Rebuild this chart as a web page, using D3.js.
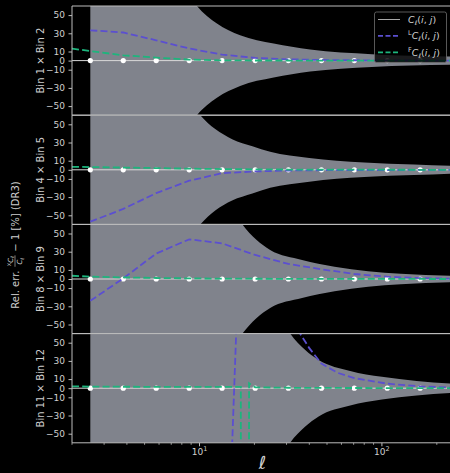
<!DOCTYPE html>
<html><head><meta charset="utf-8">
<script src="https://cdn.jsdelivr.net/npm/d3@7"></script>
<style>body{margin:0;background:#000;} svg{display:block;}</style>
</head><body><svg id="c" width="450" height="473"></svg>
<script>
// ---------------- data ----------------
const ellBins = [2.52, 3.82, 5.79, 8.78, 13.3, 20.2, 30.7, 46.6, 70.6, 107, 162, 246];
const fidValues = [0, 0, 0, 0, 0, 0, 0, 0, 0, 0, 0, 0];
const fidLine = [[2, 0], [250, 0]];
const panelLabels = ["Bin 1 × Bin 2", "Bin 4 × Bin 5", "Bin 8 × Bin 9", "Bin 11 × Bin 12"];
const yTicks = [-50, -30, -10, 0, 10, 30, 50];
const xTicksMajor = [10, 100];
const xTicksMajorExp = ["1", "2"];
const xTicksMinor = [2, 3, 4, 5, 6, 7, 8, 9, 20, 30, 40, 50, 60, 70, 80, 90, 200];

// lensing-corrected (purple)
const lensP1 = [[2.52,33.3],[3.82,30.9],[5.79,22.3],[8.78,13.3],[13.3,6.6],[20.2,2.9],[30.7,1.4],[46.6,0.7],[70.6,0.4],[107,0.2],[162,0.1],[246,0]];
const lensP2 = [[2.52,-57],[3.82,-43],[5.79,-25.6],[8.78,-12],[13.3,-3.7],[20.2,-1.8],[30.7,-0.8],[46.6,-0.4],[70.6,-0.2],[107,-0.3],[162,-0.1],[246,0]];
const lensP3 = [[2.52,-24],[3.82,0.7],[5.79,28],[8.78,43.6],[13.3,39.2],[20.2,26.4],[30.7,16.5],[46.6,10.7],[70.6,5.5],[107,2.5],[162,1],[246,0.3]];
const lensP4 = [[2.52,-300],[8.78,-300],[13.3,-300],[15.0,-90],[15.1,-62],[15.9,62],[16.0,90],[20.2,300],[28,130],[33,72],[35.6,60],[40,44],[46.6,27],[57,17],[70.6,11],[107,5],[162,2],[246,0.5]];
// F-corrected (green)
const flatP1 = [[2,13.2],[2.52,10.5],[3.82,5.8],[5.79,3.3],[8.78,1.1],[13.3,0.3],[20.2,0.1],[250,0]];
const flatP2 = [[2,3.3],[2.52,3.0],[3.82,2.5],[5.79,1.9],[8.78,1.3],[13.3,0.8],[20.2,0.5],[30.7,0.3],[46.6,0.2],[70.6,0.1],[107,0.1],[162,0],[250,0]];
const flatP3 = [[2,3.6],[2.52,2.6],[3.82,1.8],[5.79,1.1],[8.78,0.7],[13.3,0.4],[20.2,0.3],[30.7,0.2],[46.6,0.1],[70.6,0.1],[250,0]];
const flatP4 = [[2,2.0],[2.52,1.8],[3.82,1.6],[5.79,1.5],[8.78,1.5],[13.3,1.5],[16.85,1.5],[16.95,-900],[18.6,-900],[18.7,5.4],[20.2,1.0],[30.7,0.5],[46.6,0.3],[250,0]];
// error band half-width (%)
const bandP1 = [[2.52,1800],[4,450],[6,160],[8,84],[9.68,60],[12.46,40.8],[16.7,27.8],[25.5,18.7],[40.4,12.1],[88,7],[250,4.5]];
const bandP2 = [[2.52,1800],[4,460],[6,165],[8,88],[10.1,60],[12.2,44.7],[15.1,33.7],[19.5,26],[24.4,19.8],[40,13],[80,8],[150,5.8],[250,4.2]];
const bandP3 = [[2.52,4000],[6,700],[10,200],[14,88],[17.2,60],[20.5,43],[24.4,31.9],[36.5,21],[55,13.5],[84,8.5],[127,5.8],[250,3.5]];
const bandP4 = [[2.52,9000],[10,800],[20,160],[26,90],[31.4,60],[38,42],[45,31],[67,19],[100,12.5],[155,8],[250,5]];

const lensAll = [lensP1, lensP2, lensP3, lensP4];
const flatAll = [flatP1, flatP2, flatP3, flatP4];
const bandAll = [bandP1, bandP2, bandP3, bandP4];

// ---------------- style ----------------
const FONT = "DejaVu Sans";
const TXT = "#cfcfcf";
const SPINE = "#bdbdbd";
const BAND = "#80838c";
const PURPLE = "#5b4fd0";
const GREEN = "#1db57d";

const svg = d3.select("#c");
svg.append("rect").attr("width", 450).attr("height", 473).attr("fill", "#000");

const left = 72, right = 454.5;
const x = d3.scaleLog().domain([2, 250]).range([left, right]);
const top0 = 6, panelH = 109.2;

const defs = svg.append("defs");

panelLabels.forEach((lab, i) => {
  const top = top0 + i * panelH, bot = top + panelH;
  const y = d3.scaleLinear().domain([-60, 60]).range([bot, top]);
  defs.append("clipPath").attr("id", "clip" + i)
    .append("rect").attr("x", left).attr("y", top).attr("width", right - left).attr("height", panelH);
  const g = svg.append("g");
  const pg = g.append("g").attr("clip-path", `url(#clip${i})`);

  const area = d3.area().x(d => x(d[0])).y0(d => y(-d[1])).y1(d => y(d[1])).curve(d3.curveMonotoneX);
  pg.append("path").datum(bandAll[i]).attr("d", area).attr("fill", BAND);

  const line = d3.line().x(d => x(d[0])).y(d => y(d[1]));
  pg.append("path").datum(fidLine).attr("d", line).attr("stroke", "#d9d9d9").attr("stroke-width", 1).attr("fill", "none");
  pg.selectAll("circle").data(ellBins).join("circle")
    .attr("cx", d => x(d)).attr("cy", (d, k) => y(fidValues[k])).attr("r", 2.6).attr("fill", "#fff");
  pg.append("path").datum(lensAll[i]).attr("d", line).attr("stroke", PURPLE).attr("stroke-width", 1.8)
    .attr("stroke-dasharray", "7,3.2").attr("fill", "none");
  pg.append("path").datum(flatAll[i]).attr("d", line).attr("stroke", GREEN).attr("stroke-width", 1.8)
    .attr("stroke-dasharray", "7,3.2").attr("fill", "none");

  // spines
  g.append("line").attr("x1", left).attr("x2", right).attr("y1", top).attr("y2", top).attr("stroke", SPINE).attr("stroke-width", 1);
  g.append("line").attr("x1", left).attr("x2", right).attr("y1", bot).attr("y2", bot).attr("stroke", SPINE).attr("stroke-width", 1);
  g.append("line").attr("x1", left).attr("x2", left).attr("y1", top).attr("y2", bot).attr("stroke", SPINE).attr("stroke-width", 1);

  // y axis
  const ax = g.append("g").attr("transform", `translate(${left},0)`)
    .call(d3.axisLeft(y).tickValues(yTicks).tickSize(3.5).tickPadding(3.5));
  ax.select(".domain").remove();
  ax.selectAll("line").attr("stroke", SPINE);
  ax.selectAll("text").attr("fill", TXT).attr("font-family", FONT).attr("font-size", 9);

  // panel label
  g.append("text").attr("transform", `translate(44,${(top + bot) / 2}) rotate(-90)`)
    .attr("text-anchor", "middle").attr("font-family", FONT).attr("font-size", 10).attr("fill", TXT).text(lab);

  if (i === panelLabels.length - 1) {
    const xa = g.append("g");
    xa.selectAll(".maj").data(xTicksMajor).join("line")
      .attr("x1", d => x(d)).attr("x2", d => x(d)).attr("y1", bot).attr("y2", bot + 3.5).attr("stroke", SPINE);
    xa.selectAll(".min").data(xTicksMinor).join("line").attr("class", "min")
      .attr("x1", d => x(d)).attr("x2", d => x(d)).attr("y1", bot).attr("y2", bot + 2).attr("stroke", SPINE).attr("stroke-width", 0.8);
    xTicksMajor.forEach((v, k) => {
      const t = xa.append("text").attr("x", x(v)).attr("y", bot + 12).attr("text-anchor", "middle")
        .attr("font-family", FONT).attr("font-size", 9).attr("fill", TXT);
      t.append("tspan").text("10");
      t.append("tspan").attr("font-size", 6.5).attr("dy", -3.5).text(xTicksMajorExp[k]);
    });
    svg.append("text").attr("x", 262.5).attr("y", 469).attr("text-anchor", "middle")
      .attr("font-family", FONT).attr("font-style", "italic").attr("font-size", 18).attr("fill", TXT).text("ℓ");
  }
});

// outer y label with fraction
(function () {
  const g = svg.append("g").attr("transform", "translate(18.5,245) rotate(-90)");
  const mk = (txt, fs) => g.append("text").attr("font-family", FONT).attr("font-size", fs).attr("fill", TXT)
    .attr("xml:space", "preserve").style("white-space", "pre").text(txt);
  const a = mk("Rel. err. ", 10);
  const wa = a.node().getComputedTextLength();
  const num = g.append("text").attr("font-family", FONT).attr("font-size", 7).attr("fill", TXT);
  num.append("tspan").attr("font-size", 5).attr("dy", -2).text("X");
  num.append("tspan").attr("font-style", "italic").attr("dy", 2).text("C");
  num.append("tspan").attr("font-style", "italic").attr("font-size", 5).attr("dy", 1.5).text("ℓ");
  const den = g.append("text").attr("font-family", FONT).attr("font-size", 7).attr("fill", TXT);
  den.append("tspan").attr("font-style", "italic").text("C");
  den.append("tspan").attr("font-style", "italic").attr("font-size", 5).attr("dy", 1.5).text("ℓ");
  const wn = num.node().getComputedTextLength(), wd = den.node().getComputedTextLength();
  const wf = Math.max(wn, wd) + 2;
  const b = mk(" − 1 [%] (DR3)", 10);
  const wb = b.node().getComputedTextLength();
  const total = wa + wf + wb;
  const x0 = -total / 2;
  a.attr("x", x0);
  num.attr("x", x0 + wa + (wf - wn) / 2).attr("y", -6);
  den.attr("x", x0 + wa + (wf - wd) / 2).attr("y", 3.5);
  g.append("line").attr("x1", x0 + wa + 0.5).attr("x2", x0 + wa + wf - 0.5).attr("y1", -3.5).attr("y2", -3.5)
    .attr("stroke", TXT).attr("stroke-width", 0.6);
  b.attr("x", x0 + wa + wf);
})();

// legend
(function () {
  const lg = svg.append("g");
  lg.append("rect").attr("x", 374.5).attr("y", 12).attr("width", 72).attr("height", 50.5).attr("rx", 2)
    .attr("fill", "#000").attr("fill-opacity", 0.8).attr("stroke", "#6e6e6e").attr("stroke-width", 0.8);
  const rows = [
    { pre: "", color: "#a8a8a8", dash: null, w: 1 },
    { pre: "L", color: PURPLE, dash: "5,2.5", w: 1.8 },
    { pre: "F", color: GREEN, dash: "5,2.5", w: 1.8 }
  ];
  const ys = [19.5, 35.8, 52.3];
  rows.forEach((r, k) => {
    const yy = ys[k];
    const l = lg.append("line").attr("x1", 378).attr("x2", 400).attr("y1", yy).attr("y2", yy)
      .attr("stroke", r.color).attr("stroke-width", r.w);
    if (r.dash) l.attr("stroke-dasharray", r.dash);
    const t = lg.append("text").attr("x", 408).attr("y", yy + 3.5).attr("font-family", FONT)
      .attr("font-size", 9.5).attr("fill", TXT);
    if (r.pre) {
      t.append("tspan").attr("font-size", 6.5).attr("dy", -4).text(r.pre);
      t.append("tspan").attr("font-style", "italic").attr("dy", 4).text("C");
    } else {
      t.append("tspan").attr("font-style", "italic").text("C");
    }
    t.append("tspan").attr("font-style", "italic").attr("font-size", 6.5).attr("dy", 2).text("ℓ");
    t.append("tspan").attr("dy", -2).text("(");
    t.append("tspan").attr("font-style", "italic").text("i");
    t.append("tspan").text(", ");
    t.append("tspan").attr("font-style", "italic").text("j");
    t.append("tspan").text(")");
  });
})();
</script>
</body></html>
